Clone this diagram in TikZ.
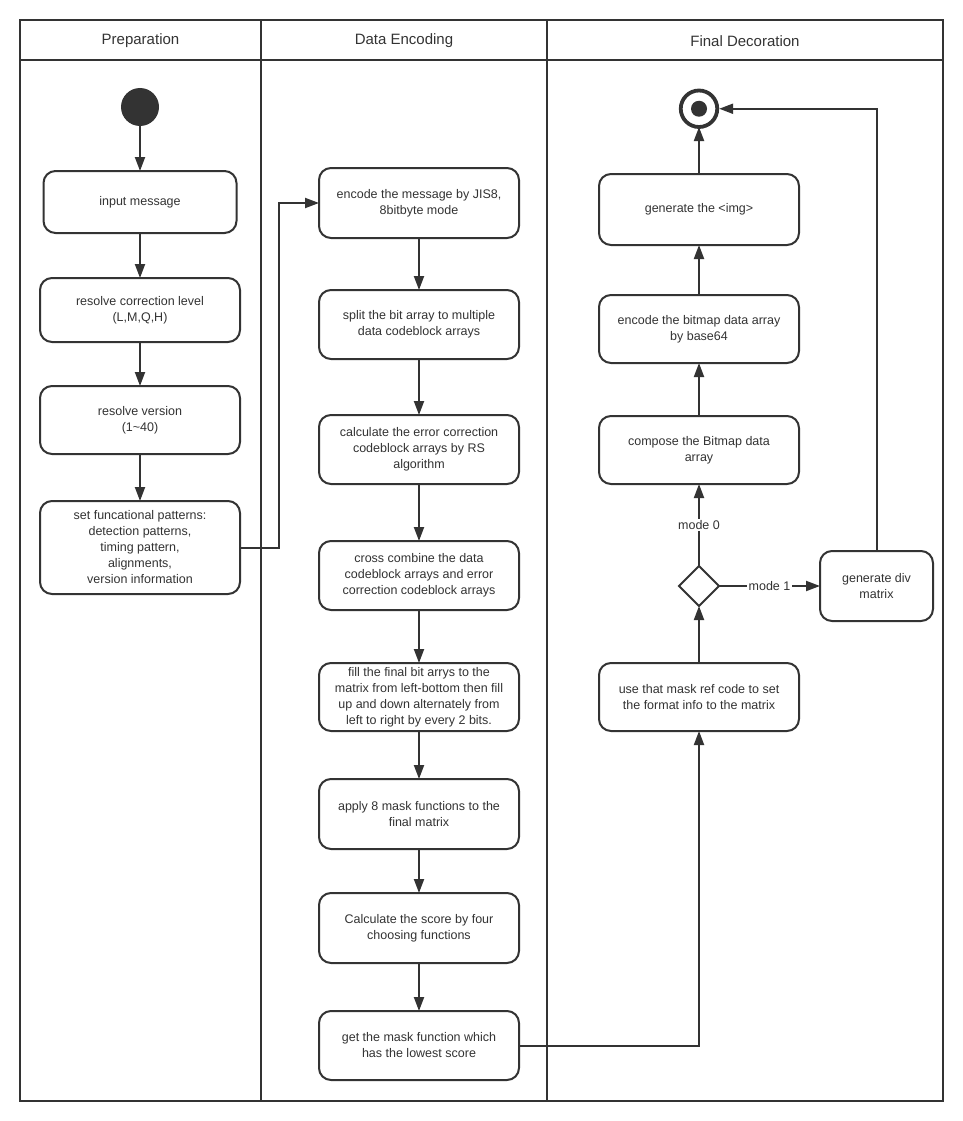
\documentclass[tikz,border=0pt]{standalone}
\usepackage{fontspec}
\setmainfont{Liberation Sans}
\usetikzlibrary{positioning,shapes.geometric,arrows.meta}
\definecolor{ink}{HTML}{333333}

\begin{document}
\begin{tikzpicture}[x=1pt, y=-1pt, node distance=48pt, color=ink, line width=2pt,
		every node/.style={outer sep=0pt},
		>={Triangle[length=14pt,width=10pt]},
		act node/.style={rectangle,rounded corners=12pt,draw,fill=white,minimum width=200pt,
			minimum height=69pt,inner sep=3pt,align=center,font=\fontsize{12.5}{16}\selectfont},
		lane title/.style={font=\fontsize{15}{18}\selectfont},
		guard/.style={fill=white,inner sep=1.5pt,font=\fontsize{12.5}{16}\selectfont}]
		
		\useasboundingbox (0,0) rectangle (963,1121);
		
		% swimlanes
		\draw (20,20) rectangle (943,1101);
		\draw (20,60) -- (943,60);
		\draw (261,20) -- (261,1101);
		\draw (547,20) -- (547,1101);
		\node[lane title] (t1) at (140.5,41) {Preparation};
		\node[lane title] (t2) at (404,41) {Data Encoding};
		\node[lane title] (t3) at (745,41) {Final Decoration};
		
		% Preparation
		\node[circle,fill,minimum size=38pt,inner sep=0pt] (1) at (140,107) {};
		\node[act node,minimum width=193pt,minimum height=62pt] (2) [below=45pt of 1] {input message};
		\node[act node,minimum height=64pt] (3) [below=45pt of 2] {resolve correction level\\(L,M,Q,H)};
		\node[act node,minimum height=68pt] (4) [below=44pt of 3] {resolve version\\(1\textasciitilde 40)};
		\node[act node,minimum height=93pt] (5) [below=47pt of 4] {set funcational patterns:\\detection patterns,\\timing pattern,\\alignments,\\version information};
		
		% Data Encoding
		\node[act node,minimum height=70pt] (6) at (419,203) {encode the message by JIS8,\\8bitbyte mode};
		\node[act node] (7) [below=52pt of 6] {split the bit array to multiple\\data codeblock arrays};
		\node[act node] (8) [below=56pt of 7] {calculate the error correction\\codeblock arrays by RS\\algorithm};
		\node[act node] (9) [below=57pt of 8] {cross combine the data\\codeblock arrays and error\\correction codeblock arrays};
		\node[act node,minimum height=68pt,inner sep=2pt] (10) [below=53pt of 9] {fill the final bit arrys to the\\matrix from left-bottom then fill\\up and down alternately from\\left to right by every 2 bits.};
		\node[act node,minimum height=70pt] (11) [below=48pt of 10] {apply 8 mask functions to the\\final matrix};
		\node[act node,minimum height=70pt] (12) [below=44pt of 11] {Calculate the score by four\\choosing functions};
		\node[act node] (13) [below=48pt of 12] {get the mask function which\\has the lowest score};
		
		% Final Decoration
		\node[act node,minimum height=68pt] (14) at (699,697) {use that mask ref code to set\\the format info to the matrix};
		\node[diamond,draw,fill=white,minimum size=40pt,inner sep=0pt] (15) [above=57pt of 14] {};
		\node[act node,minimum height=68pt] (16) [above=82pt of 15] {compose the Bitmap data\\array};
		\node[act node,minimum height=68pt] (17) [above=53pt of 16] {encode the bitmap data array\\by base64};
		\node[act node,minimum height=71pt] (18) [above=50pt of 17] {generate the <img>};
		\node[circle,draw,line width=3.8pt,minimum size=36.5pt,inner sep=0pt] (19) [above=47pt of 18] {};
		\node[circle,fill,minimum size=16pt,inner sep=0pt] (20) at (19) {};
		\node[act node,minimum width=113pt,minimum height=70pt] (21) [right=101pt of 15] {generate div\\matrix};
		
		\path[->]
		(1) edge (2)
		(2) edge (3)
		(3) edge (4)
		(4) edge (5)
		(6) edge (7)
		(7) edge (8)
		(8) edge (9)
		(9) edge (10)
		(10) edge (11)
		(11) edge (12)
		(12) edge (13)
		(14) edge (15)
		(16) edge (17)
		(17) edge (18)
		(18) edge (19.south);
		
		\draw[->] (5.east) -- ++(39,0) |- (6.west);
		\draw[->] (13.east) -| (14.south);
		\draw[->] (15) -- node[guard] {mode 0} (16);
		\draw[->] (15) -- node[guard] {mode 1} (21);
		\draw[->] (21.north) |- ([xshift=1.9pt]19.east);
		
	\end{tikzpicture}
\end{document}
